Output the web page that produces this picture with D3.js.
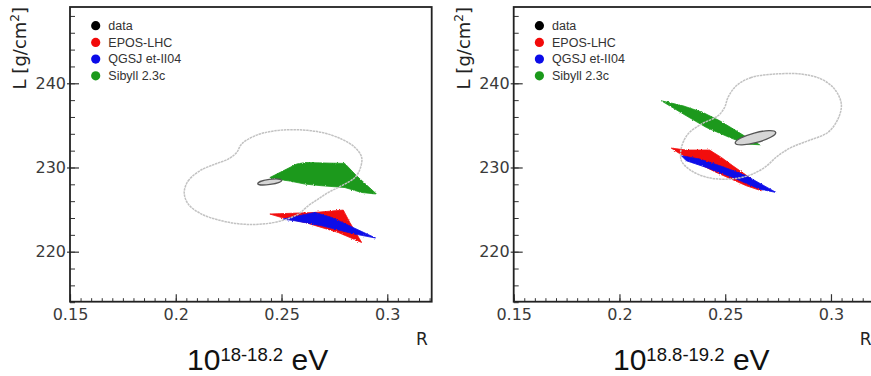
<!DOCTYPE html>
<html>
<head>
<meta charset="utf-8">
<script src="https://cdn.jsdelivr.net/npm/d3@7"></script>
<style>
  html, body { margin: 0; padding: 0; background: #fff; }
  svg { display: block; }
</style>
</head>
<body>
<svg id="chart" width="871" height="376"></svg>
<script>
// ---- axis ticks ----
const rMajorTicks = [0.15, 0.2, 0.25, 0.3];
const lMajorTicks = [220, 230, 240];
const rDomain = [0.15, 0.321];
const lDomain = [214.06, 249.06];

// ---- legend ----
const legendNames = ["data", "EPOS-LHC", "QGSJ et-II04", "Sibyll 2.3c"];

// ---- energy bins ----
const energyBins = ["18-18.2", "18.8-19.2"];

// ---- 10^18 - 10^18.2 eV : (R, L) ----
const lowContour = [
  [0.2040, 227.03], [0.2059, 228.42], [0.2114, 229.61], [0.2185, 230.40], [0.2248, 231.00],
  [0.2288, 231.78], [0.2311, 232.78], [0.2374, 233.76], [0.2469, 234.36], [0.2579, 234.48],
  [0.2690, 234.16], [0.2784, 233.37], [0.2847, 232.38], [0.2879, 231.19], [0.2871, 229.81],
  [0.2847, 228.81], [0.2784, 227.83], [0.2721, 227.03], [0.2673, 226.25], [0.2626, 225.45],
  [0.2579, 224.47], [0.2500, 223.67], [0.2406, 223.28], [0.2311, 223.28], [0.2217, 223.67],
  [0.2122, 224.47], [0.2059, 225.65]
];
const lowSibyll = [
  [0.2445, 228.81], [0.2571, 230.40], [0.2611, 230.59], [0.2799, 230.48], [0.2855, 229.01],
  [0.2949, 226.84], [0.2879, 227.03], [0.2799, 227.62], [0.2690, 227.83], [0.2611, 228.03],
  [0.2532, 228.42], [0.2469, 228.62]
];
const lowEpos = [
  [0.2445, 224.47], [0.2658, 224.66], [0.2792, 224.94], [0.2823, 223.47], [0.2879, 221.09],
  [0.2768, 222.28], [0.2611, 223.47], [0.2500, 224.06]
];
const lowQgsjet = [
  [0.2508, 223.87], [0.2658, 224.66], [0.2737, 224.06], [0.2945, 221.62], [0.2847, 222.09],
  [0.2690, 223.08], [0.2563, 223.67]
];
// center R, center L, half-width in R, half-width in L, tilt (deg)
const lowData = [0.2444, 228.28, 0.0057, 0.30, -8];

// ---- 10^18.8 - 10^19.2 eV : (R, L) ----
const highContour = [
  [0.2733, 241.09], [0.2623, 240.69], [0.2552, 239.70], [0.2513, 238.31], [0.2497, 237.13],
  [0.2466, 236.14], [0.2387, 235.15], [0.2324, 233.97], [0.2293, 232.38], [0.2293, 230.80],
  [0.2340, 229.61], [0.2418, 228.81], [0.2513, 228.62], [0.2607, 229.01], [0.2686, 230.00],
  [0.2749, 231.39], [0.2812, 232.38], [0.2891, 233.17], [0.2985, 234.16], [0.3033, 235.75],
  [0.3049, 237.53], [0.3017, 239.31], [0.2954, 240.50], [0.2860, 241.09]
];
const highSibyll = [
  [0.2198, 237.92], [0.2300, 237.33], [0.2395, 236.53], [0.2474, 235.55], [0.2552, 234.36],
  [0.2615, 233.37], [0.2663, 232.70], [0.2600, 232.78], [0.2521, 233.56], [0.2411, 234.75],
  [0.2316, 236.14], [0.2237, 237.33]
];
const highEpos = [
  [0.2245, 232.30], [0.2316, 232.07], [0.2426, 232.07], [0.2482, 231.19], [0.2536, 230.20],
  [0.2615, 228.81], [0.2671, 227.23], [0.2600, 227.83], [0.2458, 229.41], [0.2347, 230.80],
  [0.2276, 231.78]
];
const highQgsjet = [
  [0.2293, 231.39], [0.2379, 231.00], [0.2489, 230.08], [0.2600, 229.01], [0.2741, 227.03],
  [0.2663, 227.43], [0.2536, 228.81], [0.2411, 230.00], [0.2316, 230.80]
];
const highData = [0.2643, 233.53, 0.0099, 0.58, -15];

// ---- styling ----
const colors = { data: "#000", epos: "#f20a0a", qgsjet: "#0b0be8", sibyll: "#1b991b" };
const legendColors = [colors.data, colors.epos, colors.qgsjet, colors.sibyll];
const tickFont = "'DejaVu Sans', sans-serif";

const svg = d3.select("#chart");
const W = 361.7, H = 294.7;

// rough edge for the filled model regions
const defs = svg.append("defs");
const rough = defs.append("filter").attr("id", "rough")
  .attr("x", "-10%").attr("y", "-30%").attr("width", "120%").attr("height", "160%");
rough.append("feTurbulence").attr("type", "fractalNoise")
  .attr("baseFrequency", 0.9).attr("numOctaves", 2).attr("seed", 3).attr("result", "noise");
rough.append("feDisplacementMap").attr("in", "SourceGraphic").attr("in2", "noise")
  .attr("scale", 2.2).attr("xChannelSelector", "R").attr("yChannelSelector", "G");

const panels = [
  { left: 70, top: 7, bin: energyBins[0], contour: lowContour, sibyll: lowSibyll,
    epos: lowEpos, qgsjet: lowQgsjet, data: lowData },
  { left: 513.7, top: 7, bin: energyBins[1], contour: highContour, sibyll: highSibyll,
    epos: highEpos, qgsjet: highQgsjet, data: highData }
];

panels.forEach((p, i) => {
  const g = svg.append("g").attr("transform", `translate(${p.left},${p.top})`);
  const x = d3.scaleLinear().domain(rDomain).range([0, W]);
  const y = d3.scaleLinear().domain(lDomain).range([H, 0]);

  const clipId = "clip" + i;
  defs.append("clipPath").attr("id", clipId)
    .append("rect").attr("width", W).attr("height", H);

  const plot = g.append("g").attr("clip-path", `url(#${clipId})`);

  // data contour (outer, light grey)
  const contourLine = d3.line().x(d => x(d[0])).y(d => y(d[1]))
    .curve(d3.curveCatmullRomClosed.alpha(0.5));
  const poly = d3.line().x(d => x(d[0])).y(d => y(d[1])).curve(d3.curveLinearClosed);

  // model regions
  plot.append("path").attr("d", poly(p.epos))
    .attr("fill", colors.epos).attr("stroke", colors.epos).attr("stroke-width", 0.8)
    .attr("filter", "url(#rough)");
  plot.append("path").attr("d", poly(p.qgsjet))
    .attr("fill", colors.qgsjet).attr("stroke", colors.qgsjet).attr("stroke-width", 0.8)
    .attr("filter", "url(#rough)");
  plot.append("path").attr("d", poly(p.sibyll))
    .attr("fill", colors.sibyll).attr("stroke", colors.sibyll).attr("stroke-width", 0.8)
    .attr("filter", "url(#rough)");

  plot.append("path").attr("d", contourLine(p.contour))
    .attr("fill", "none").attr("stroke", "#c2c2c2").attr("stroke-width", 1.5)
    .attr("stroke-dasharray", "2.5,0.7");

  // data ellipse
  const [cr, cl, hr, hl, tilt] = p.data;
  const cx = x(cr), cy = y(cl);
  plot.append("ellipse")
    .attr("cx", 0).attr("cy", 0)
    .attr("rx", x(cr + hr) - cx).attr("ry", cy - y(cl + hl))
    .attr("transform", `translate(${cx},${cy}) rotate(${tilt})`)
    .attr("fill", "#d6d6d6").attr("stroke", "#555").attr("stroke-width", 1.3);

  // axes: minor + major ticks pointing inward
  const xMinor = d3.range(0.15, 0.3211, 0.005);
  const yMinor = d3.range(214, 249.1, 2);

  g.append("g").attr("transform", `translate(0,${H})`)
    .call(d3.axisBottom(x).tickValues(xMinor).tickSize(-3.5).tickFormat(""))
    .call(a => a.select(".domain").remove())
    .selectAll("line").attr("stroke", "#333");
  g.append("g").call(d3.axisLeft(y).tickValues(yMinor).tickSize(-5).tickFormat(""))
    .call(a => a.select(".domain").remove())
    .selectAll("line").attr("stroke", "#333");

  const xAxis = g.append("g").attr("transform", `translate(0,${H})`)
    .call(d3.axisBottom(x).tickValues(rMajorTicks).tickSizeInner(-7.5).tickSizeOuter(0)
      .tickPadding(7).tickFormat(d3.format("")));
  xAxis.select(".domain").remove();
  xAxis.selectAll("line").attr("stroke", "#333").attr("stroke-width", 1.2);
  xAxis.selectAll("text").attr("font-family", tickFont).attr("font-size", 16).attr("fill", "#3a3a3a");

  const yAxis = g.append("g")
    .call(d3.axisLeft(y).tickValues(lMajorTicks).tickSizeInner(-9).tickSizeOuter(0)
      .tickPadding(4).tickFormat(d3.format("")));
  yAxis.select(".domain").remove();
  yAxis.selectAll("line").attr("x1", -3).attr("stroke", "#333").attr("stroke-width", 1.2);
  yAxis.selectAll("text").attr("font-family", tickFont).attr("font-size", 16).attr("fill", "#3a3a3a");

  // frame
  g.append("rect").attr("width", W).attr("height", H)
    .attr("fill", "none").attr("stroke", "#222").attr("stroke-width", 1.8);

  // axis titles
  const yt = g.append("text")
    .attr("transform", `translate(-44,0) rotate(-90)`)
    .attr("text-anchor", "end")
    .attr("font-family", tickFont).attr("font-size", 18).attr("fill", "#222");
  yt.append("tspan").text("L [g/cm");
  yt.append("tspan").attr("font-size", 12).attr("dy", -7).text("2");
  yt.append("tspan").attr("dy", 7).text("]");
  g.append("text")
    .attr("x", 352).attr("y", 345 - p.top)
    .attr("text-anchor", "middle")
    .attr("font-family", tickFont).attr("font-size", 17).attr("fill", "#222")
    .text("R");

  // legend
  const leg = g.append("g");
  legendNames.forEach((name, k) => {
    const ly = 18.7 + k * 16.7;
    leg.append("circle").attr("cx", 25.7).attr("cy", ly).attr("r", 4.6)
      .attr("fill", legendColors[k]);
    leg.append("text").attr("x", 38.3).attr("y", ly + 4.3)
      .attr("font-family", "'Liberation Sans', Arial, sans-serif").attr("font-size", 12.5)
      .attr("fill", "#333").text(name);
  });

  // energy-bin title
  const t = g.append("text")
    .attr("x", i === 0 ? 117 : 99.3).attr("y", 370 - p.top)
    .attr("font-family", "'Liberation Sans', Arial, sans-serif").attr("font-size", 30)
    .attr("fill", "#111");
  t.append("tspan").text("10");
  t.append("tspan").attr("font-size", 18.5).attr("dy", -9).text(p.bin);
  t.append("tspan").attr("dy", 9).text(" eV");
});
</script>
</body>
</html>
